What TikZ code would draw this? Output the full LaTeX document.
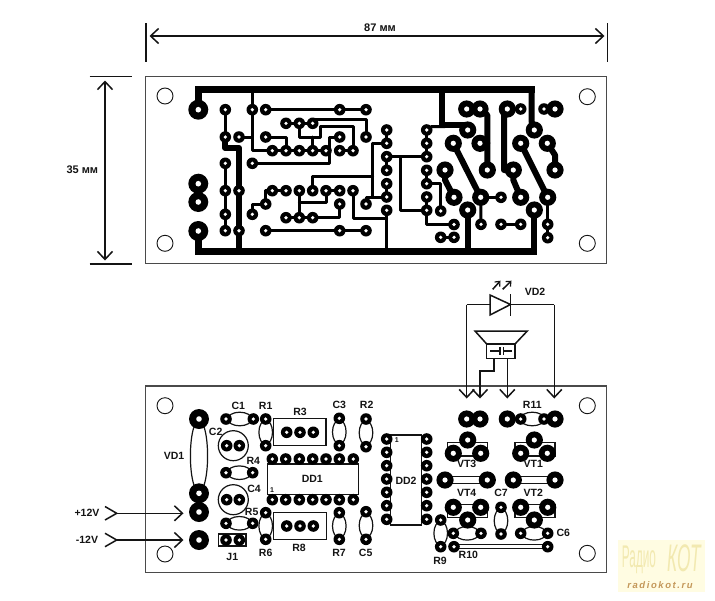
\documentclass[tikz,border=0pt]{standalone}
\usepackage{fontspec}
\setmainfont{Liberation Sans}
\usetikzlibrary{arrows.meta}
\definecolor{ink}{HTML}{141414}
\definecolor{edge}{HTML}{4A4A4A}
\definecolor{wmback}{HTML}{FFFCE2}
\definecolor{wmtext}{HTML}{F2E9B0}
\definecolor{wmurl}{HTML}{C4985A}
\tikzset{
  x=1pt,y=-1pt,
  board/.style={draw=edge,line width=1.2pt,fill=white},
  hole/.style={draw=ink,line width=.9pt,fill=white},
  cu/.style={draw=black,line width=3pt,line join=round,line cap=round},
  cuheavy/.style={draw=black,line width=6pt,line join=round,line cap=round},
  bus/.style={draw=black,line width=6.8pt,line join=miter},
  wire/.style={draw=ink,line width=1.5pt},
  part/.style={draw=ink,line width=1.2pt,fill=white},
  lbl/.style={font=\fontsize{10.5}{12}\selectfont\bfseries,text=ink,inner sep=0pt},
  dimlbl/.style={font=\fontsize{11}{12}\selectfont\bfseries,text=ink,inner sep=0pt},
  tiny/.style={font=\fontsize{7}{8}\selectfont\bfseries,text=ink,inner sep=0pt},
  openhead/.style={-{Straight Barb[length=8pt,width=15pt,line width=1.5pt]}},
  openboth/.style={{Straight Barb[length=8pt,width=15pt,line width=1.5pt]}-{Straight Barb[length=8pt,width=15pt,line width=1.5pt]}},
  lighthead/.style={-{Straight Barb[length=4pt,width=7pt,line width=1.2pt]}},
}
\newcommand{\pad}[2]{\fill[black] (#1,#2) circle (5.8); \fill[white] (#1,#2) circle (1.8);}
\newcommand{\mpad}[2]{\fill[black] (#1,#2) circle (8.6); \fill[white] (#1,#2) circle (2.6);}
\newcommand{\bpad}[2]{\fill[black] (#1,#2) circle (10); \fill[white] (#1,#2) circle (2.8);}
\newcommand{\hellipse}[2]{\draw[part] (#1,#2) ellipse (12 and 6.8);}
\newcommand{\vellipse}[2]{\draw[part] (#1,#2) ellipse (6.8 and 12);}
\begin{document}
\begin{tikzpicture}
\useasboundingbox (0,0) rectangle (715,600);
\fill[white] (0,0) rectangle (715,600);

% ---------- dimensions
\draw[wire] (146,23) -- (146,62);
\draw[wire] (607.5,23) -- (607.5,62);
\draw[wire,openboth] (149.5,36) -- (604.5,36);
\draw[wire] (89.5,76.7) -- (131.5,76.7);
\draw[wire] (89.5,264) -- (131.5,264);
\draw[wire,openboth] (105,80.5) -- (105,260.5);
\node[dimlbl] (dimw) at (380,27.5) {87 мм};
\node[dimlbl] (dimh) at (82.3,170) {35 мм};

% ---------- copper side
\draw[board] (145.7,76.7) rectangle (606.7,263.3);
\foreach \x/\y in {165/96,165/243.3,587.3/96.7,587.3/243.3} \draw[hole] (\x,\y) circle (8);

\draw[bus] (198.3,109.7) -- (198.3,89.7) -- (535,89.7);
\draw[bus] (198.3,231) -- (198.3,251.7) -- (537.3,251.7);
\draw[cuheavy] (531.7,89.7) -- (531.7,122) -- (534.3,130);
\draw[cuheavy] (534.3,251.7) -- (534.3,210);
\draw[cuheavy] (467.7,251.7) -- (467.7,210);
\draw[cuheavy] (442.3,89.7) -- (442.3,125) -- (467.7,125) -- (467.7,130);
\draw[cuheavy] (225.3,137) -- (225.3,148) -- (239,148) -- (239,251.7);
\draw[cu] (252.3,89.7) -- (252.3,150.7) -- (272.3,150.7);
\draw[cu] (239,137) -- (252.3,137);
\draw[cu] (225.3,109.7) -- (225.3,137);
\draw[cu] (265.7,109.7) -- (366,109.7);
\draw[cu] (286,123.3) -- (312.7,123.3);
\draw[cu] (312.7,123.3) -- (312.7,119) -- (366,119) -- (366,137);
\draw[cu] (299.3,123.3) -- (299.3,137) -- (320,137) -- (320,126) -- (353,126) -- (353,150.7);
\draw[cu] (312.7,137) -- (312.7,150.7);
\draw[cu] (265.7,137) -- (286,137) -- (286,150.7);
\draw[cu] (339.7,137) -- (329,137) -- (329,163.3) -- (252.3,163.3);
\draw[cu] (272.3,150.7) -- (326,150.7);
\draw[cu] (339.7,150.7) -- (353,150.7);
\draw[cu] (225.3,163.3) -- (225.3,230.7);
\draw[cu] (272.3,190.7) -- (265.7,190.7) -- (265.7,204) -- (252.3,204) -- (252.3,214.3);
\draw[cu] (272.3,190.7) -- (286,190.7);
\draw[cu] (299.3,190.7) -- (299.3,217.7);
\draw[cu] (299.3,202.7) -- (326,202.7) -- (326,190.7) -- (339.7,190.7);
\draw[cu] (312.7,190.7) -- (312.7,176) -- (372.7,176);
\draw[cu] (372.7,143.3) -- (372.7,197);
\draw[cu] (372.7,143.3) -- (386.7,143.3);
\draw[cu] (366,204) -- (366,197) -- (386.7,197);
\draw[cu] (386.7,130) -- (386.7,143.3);
\draw[cu] (386.7,156.7) -- (426.7,156.7);
\draw[cu] (400,156.7) -- (400,210.3) -- (426.7,210.3);
\draw[cu] (386.7,156.7) -- (386.7,170.3);
\draw[cu] (386.7,183.7) -- (386.7,197);
\draw[cu] (353,190.7) -- (353,218) -- (386.7,218);
\draw[cu] (386.7,210.3) -- (386.7,251.7);
\draw[cu] (339.7,204) -- (339.7,217.7) -- (286,217.7);
\draw[cu] (265.7,230.7) -- (366,230.7);
\draw[cu] (426.7,130) -- (426.7,156.7);
\draw[cu] (426.7,130) -- (432,126.5) -- (445,126.5);
\draw[cu] (426.7,170.3) -- (426.7,183.7) -- (440.7,183.7) -- (440.7,211);
\draw[cu] (426.7,197) -- (426.7,224.5) -- (454,224.5);
\draw[cu] (440.7,237.3) -- (454,237.3);
\draw[cuheavy] (466.7,109) -- (480,109) -- (487.3,115) -- (487.3,170);
\draw[cuheavy] (480,143.3) -- (487.3,143.3);
\draw[cuheavy] (453.3,143.3) -- (480.7,197.3);
\draw[cuheavy] (445,170) -- (445,180) -- (454,197.3);
\draw[cu] (480.7,197.3) -- (501,197.3);
\draw[cu] (480.7,197.3) -- (481,224.3);
\draw[cu] (501,224.3) -- (520.7,224.3);
\draw[cuheavy] (507.3,109) -- (504,115) -- (504,170) -- (513.3,170) -- (513.3,180) -- (520.7,197.3);
\draw[cu] (507.3,109) -- (520.7,109);
\draw[cuheavy] (520.7,143.3) -- (547.7,197.3);
\draw[cuheavy] (547.3,143.3) -- (555,155) -- (555,170);
\draw[cu] (544,109) -- (555,109);
\draw[cu] (547.7,197.3) -- (547.7,237.7);

\foreach \a/\b in {225.3/109.7,252.3/109.7,265.7/109.7,339.7/109.7,366/109.7,
  286/123.3,299.3/123.3,312.7/123.3,
  225.3/137,239/137,265.7/137,339.7/137,366/137,
  272.3/150.7,286/150.7,299.3/150.7,312.7/150.7,326/150.7,339.7/150.7,353/150.7,
  225.3/163.3,252.3/163.3,
  225.3/190.7,239/190.7,272.3/190.7,286/190.7,299.3/190.7,312.7/190.7,326/190.7,339.7/190.7,353/190.7,
  265.7/204,339.7/204,366/204,
  252.3/214.3,225.3/214.3,286/217.7,299.3/217.7,312.7/217.7,
  225.3/230.7,239/230.7,265.7/230.7,339.7/230.7,366/230.7,
  386.7/130,386.7/143.3,386.7/156.7,386.7/170.3,386.7/183.7,386.7/197,386.7/210.3,
  426.7/130,426.7/143.3,426.7/156.7,426.7/170.3,426.7/183.7,426.7/197,426.7/210.3,
  440.7/211,454/224.5,440.7/237.3,454/237.3,520.7/109,544/109,
  501/197.3,481/224.3,501/224.3,520.7/224.3,547.7/224.3,547.7/237.7}
  {\pad{\a}{\b}}
\foreach \a/\b in {466.7/109,480/109,507.3/109,555/109,467.7/130,534.3/130,
  453.3/143.3,480/143.3,520.7/143.3,547.3/143.3,
  445/170,487.3/170,513.3/170,555/170,
  454/197.3,480.7/197.3,520.7/197.3,547.7/197.3,467.7/210,534.3/210}
  {\mpad{\a}{\b}}
\foreach \a/\b in {198.3/109.7,198.3/183.7,198.3/202,198.3/231} {\bpad{\a}{\b}}

% ---------- component side
\draw[board] (145.5,386) rectangle (606.7,572.3);
\foreach \x/\y in {165/405.7,165/554,587.3/405.7,587.3/553.3} \draw[hole] (\x,\y) circle (8);

% parts under the pads
\draw[part] (199,456) ellipse (8.6 and 36);
\draw[part] (233.3,445.7) circle (15);
\draw[part] (233.3,499.7) circle (15);
\hellipse{239.7}{419} \hellipse{239.4}{472.7} \hellipse{239.4}{523.3}
\vellipse{265.7}{432.3} \vellipse{339.3}{432} \vellipse{366}{432.8}
\vellipse{265.7}{526} \vellipse{339.3}{526} \vellipse{366}{525.5}
\draw[part] (273.3,418.3) rectangle (326,445.7);
\draw[part] (273.3,512.3) rectangle (326.7,539.3);
\draw[part] (267.7,464) rectangle (358.3,494.7);
\draw[part] (218.3,534) rectangle (246,546);
\draw[part] (390.7,435) rectangle (421.7,525);
\hellipse{532.3}{419}
\draw[part] (447.3,442.3) rectangle (487.7,456);
\draw[part] (515,442.3) rectangle (555,456);
\draw[part] (447.3,504.3) rectangle (487.7,517.7);
\draw[part] (515,504.3) rectangle (555,517.7);
\draw[part] (450,476.7) rectangle (483,483.5);
\draw[part] (518,476.7) rectangle (551,483.5);
\vellipse{501}{520.7}
\hellipse{467.2}{533.3} \hellipse{534.2}{533.3}
\vellipse{440.7}{533.3}
\draw[part] (454,544.7) rectangle (547.7,548.7);

\foreach \a/\b in {226/419,253.3/419,265.7/419,265.7/445.7,286.7/432.3,300/432.3,313.3/432.3,
  339.3/418.3,339.3/445.7,366/419,366/446.7,226.7/445.7,239.3/445.7,226/472.7,252.7/472.7,
  226.7/499.7,239.3/499.7,226/523.3,252.7/523.3,265.7/512.7,265.7/539.3,
  286.7/526,300/526,313.3/526,339.3/512.7,339.3/539.3,366/511.7,366/539.3,226/540,239.3/540,
  272.3/459,285.7/459,299.3/459,312.7/459,326/459,339.3/459,353.3/459,
  272.3/499.7,285.7/499.7,299.3/499.7,312.7/499.7,326/499.7,339.3/499.7,353.3/499.7,
  386.7/439,386.7/452.3,386.7/465.7,386.7/479,386.7/492.3,386.7/505.7,386.7/519.3,
  426.7/439,426.7/452.3,426.7/465.7,426.7/479,426.7/492.3,426.7/505.7,426.7/519.3,
  520.7/419,544/419,501/507.3,501/534,453.3/533.3,481/533.3,520.7/533.3,547.7/533.3,
  440.7/520,440.7/546.7,454/546.7,547.7/546.7}
  {\pad{\a}{\b}}
\foreach \a/\b in {466.7/419,480/419,507.3/419,555/419,467.7/440,453.3/453.3,480.7/453.3,
  534.3/440,520.7/453.3,547.3/453.3,445/480,487.3/480,513.3/480,555/480,
  453.3/507.3,480.7/507.3,467.7/520,520.7/507.3,547.7/507.3,534.3/520}
  {\mpad{\a}{\b}}
\foreach \a/\b in {199/419,199/493.3,199/512,199/540} {\bpad{\a}{\b}}

% component labels
\node[lbl] (lC1) at (238.3,405.7) {C1};
\node[lbl] (lR1) at (265.7,405.7) {R1};
\node[lbl] (lR3) at (300,411.7) {R3};
\node[lbl] (lC3) at (339.3,405) {C3};
\node[lbl] (lR2) at (366.7,405) {R2};
\node[lbl] (lC2) at (215.7,431.7) {C2};
\node[lbl] (lVD1) at (174,455.7) {VD1};
\node[lbl] (lR4) at (253.3,460.7) {R4};
\node[lbl] (lDD1) at (312.3,479.3) {DD1};
\node[tiny] (lp1) at (272,490) {1};
\node[lbl] (lC4) at (254,489.3) {C4};
\node[lbl] (lR5) at (251.7,512.3) {R5};
\node[lbl] (lJ1) at (232.3,557.3) {J1};
\node[lbl] (lR6) at (265.7,553.3) {R6};
\node[lbl] (lR8) at (299,548.3) {R8};
\node[lbl] (lR7) at (339,553.3) {R7};
\node[lbl] (lC5) at (365.7,553.3) {C5};
\node[lbl] (lDD2) at (406,481) {DD2};
\node[tiny] (lp2) at (396.7,440) {1};
\node[lbl] (lR11) at (532.3,405) {R11};
\node[lbl] (lVT3) at (466.7,464.3) {VT3};
\node[lbl] (lVT1) at (533.3,464.3) {VT1};
\node[lbl] (lVT4) at (466.7,493.3) {VT4};
\node[lbl] (lVT2) at (533.3,493.3) {VT2};
\node[lbl] (lC7) at (501,493.3) {C7};
\node[lbl] (lC6) at (563.3,533.3) {C6};
\node[lbl] (lR9) at (440,561) {R9};
\node[lbl] (lR10) at (468.3,555) {R10};
\node[lbl] (lVD2) at (535,291.7) {VD2};
\node[lbl] (lp12) at (87,513) {+12V};
\node[lbl] (lm12) at (87,540) {-12V};

% supply inputs
\draw[wire,openhead] (116.7,513.3) -- (183.5,513.3);
\draw[wire] (105,506.5) -- (116.7,513.3) -- (105,520);
\draw[wire,openhead] (116.7,540) -- (183.5,540);
\draw[wire] (105,533.3) -- (116.7,540) -- (105,546.7);

% LED and speaker wiring
\draw[wire,openhead] (466.7,304.5) -- (466.7,398.5);
\draw[wire,openhead] (554.3,304.5) -- (554.3,398.5);
\draw[wire] (466.7,304.5) -- (490,304.5);
\draw[wire] (510.5,304.5) -- (554.3,304.5);
\draw[wire,fill=white] (490,295) -- (510.5,304.5) -- (490,315) -- cycle;
\draw[wire] (510.7,294) -- (510.7,316);
\draw[wire,lighthead] (492.7,289.3) -- (500.5,280.7);
\draw[wire,lighthead] (502.7,289.3) -- (511.5,280.7);
\draw[wire] (475,331) -- (527.3,331) -- (515,344) -- (486.7,344) -- cycle;
\draw[wire] (486.7,344) rectangle (515,358.3);
\draw[wire] (490,351) -- (500,351) (500,347) -- (500,355) (503.5,347) -- (503.5,355) (503.5,351) -- (511.7,351);
\draw[wire,openhead] (494,358.3) -- (494,371) -- (480,371) -- (480,398.5);
\draw[wire,openhead] (507.3,358.3) -- (507.3,398.5);

% watermark
\fill[wmback] (618,540) rectangle (705,592);
\node[inner sep=0pt,text=wmtext] (wm1) at (639,560) {\scalebox{.62}[1.65]{\fontsize{19}{20}\selectfont Радио}};
\node[inner sep=0pt,text=wmtext] (wm2) at (684,558) {\scalebox{.72}[1.6]{\fontsize{24}{26}\selectfont\itshape КОТ}};
\node[inner sep=0pt,text=wmurl] (wm3) at (660,585.5) {\fontsize{9.5}{10}\selectfont\bfseries\itshape r\,a\,d\,i\,o\,k\,o\,t\,.\,r\,u};
\end{tikzpicture}
\end{document}
